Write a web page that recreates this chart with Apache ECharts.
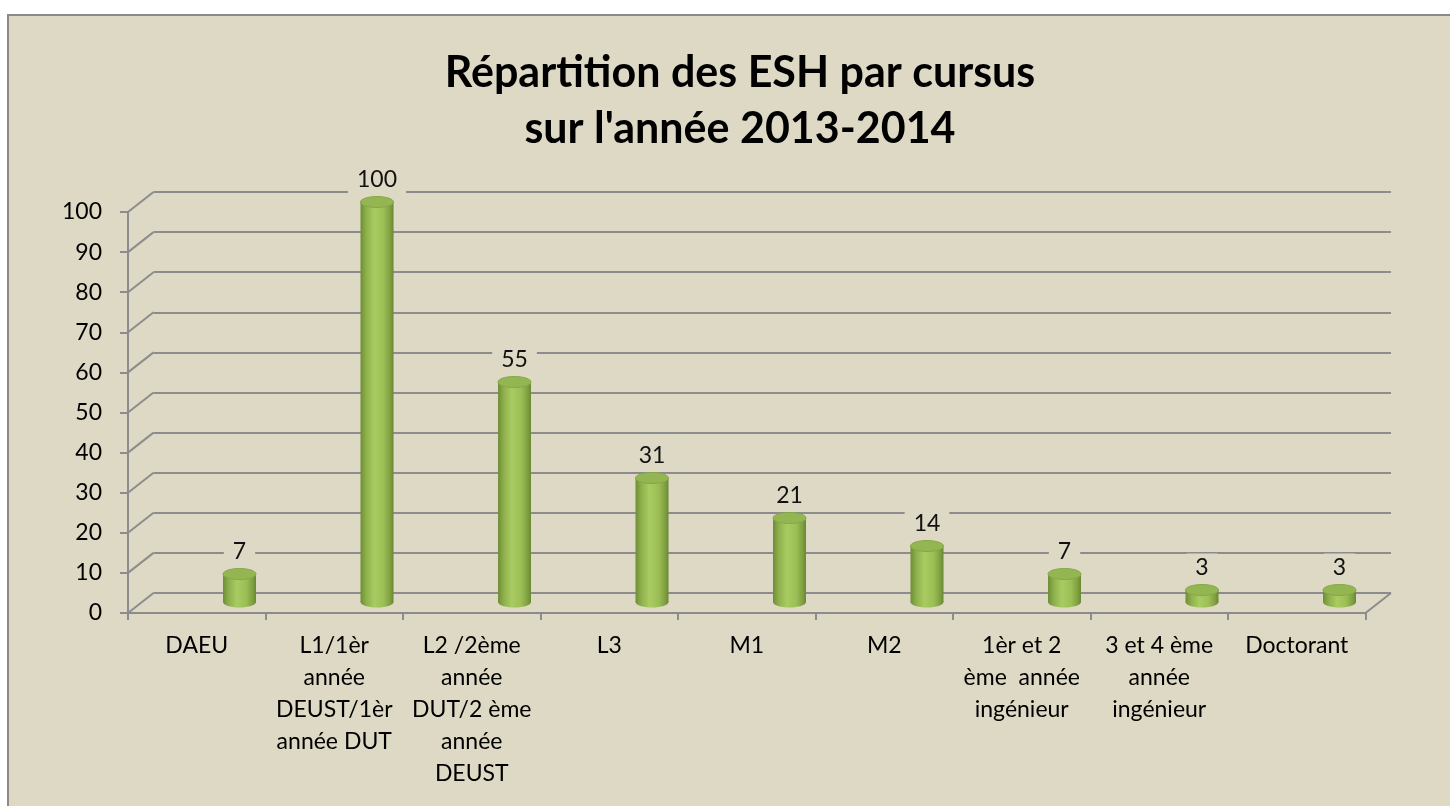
<!DOCTYPE html>
<html>
<head>
<meta charset="utf-8">
<script src="https://cdn.jsdelivr.net/npm/echarts@6/dist/echarts.min.js"></script>
<style>
  html, body { margin: 0; padding: 0; background: #fff; }
  #wrap { position: relative; width: 1450px; height: 806px; overflow: hidden; }
  #panel { position: absolute; left: 7px; top: 14px; width: 1480px; height: 820px;
           background: #DDD9C4; border-left: 2px solid #8a8a8a; border-top: 2px solid #8a8a8a; }
  #chart { position: absolute; left: 0; top: 0; width: 1450px; height: 806px; }
</style>
</head>
<body>
<div id="wrap">
  <div id="panel"></div>
  <div id="chart"></div>
</div>
<script>
// categories (tick labels, with the original line breaks)
const categories = [
  "DAEU",
  "L1/1èr\nannée\nDEUST/1èr\nannée DUT",
  "L2 /2ème\nannée\nDUT/2 ème\nannée\nDEUST",
  "L3",
  "M1",
  "M2",
  "1èr et 2\nème  année\ningénieur",
  "3 et 4 ème\nannée\ningénieur",
  "Doctorant"
];
// number of students per cursus
const values = [7, 100, 55, 31, 21, 14, 7, 3, 3];

const titleLines = ["Répartition des ESH par cursus", "sur l'année 2013-2014"];
const yMax = 100;
const yStep = 10;

const bg = "#DDD9C4";
const gridColor = "#8c8c8c";
const font = "Lato, 'Open Sans', sans-serif";

// front face, back wall, and the plane where the cylinders stand
const front = { left: 128, right: 84.5, top: 212, bottom: 193 };
const back = { left: 153.5, right: 59, top: 192, bottom: 213 };
const mid = { left: 170.75, right: 41.75, top: 202, bottom: 204 };

const chart = echarts.init(document.getElementById("chart"));

const bodyFill = new echarts.graphic.LinearGradient(0, 0, 1, 0, [
  { offset: 0, color: "#6f8d36" },
  { offset: 0.18, color: "#8fb14c" },
  { offset: 0.42, color: "#a9cb62" },
  { offset: 0.7, color: "#9cbf55" },
  { offset: 0.9, color: "#7f9f40" },
  { offset: 1, color: "#6a8732" }
]);

function renderCylinder(params, api) {
  const v = api.value(1);
  const top = api.coord([api.value(0), v]);
  const base = api.coord([api.value(0), 0]);
  const w = 33, eh = 11;
  return {
    type: "group",
    children: [
      { type: "ellipse", shape: { cx: base[0], cy: base[1], rx: w / 2, ry: eh / 2 }, style: { fill: bodyFill } },
      { type: "rect", shape: { x: base[0] - w / 2, y: top[1], width: w, height: base[1] - top[1] }, style: { fill: bodyFill } },
      { type: "ellipse", shape: { cx: top[0], cy: top[1], rx: w / 2, ry: eh / 2 },
        style: { fill: "#94b652", stroke: "#87a746", lineWidth: 1 } },
      { type: "text", x: top[0], y: top[1] - 22,
        style: { text: String(v), fill: "#111", font: "23px " + font, align: "center", verticalAlign: "middle",
                 backgroundColor: bg, padding: [3, 9] } }
    ]
  };
}

const option = {
  backgroundColor: "transparent",
  animation: false,
  title: {
    text: titleLines.join("\n"),
    left: 735,
    top: 40,
    textAlign: "center",
    textStyle: { fontFamily: font, fontSize: 43, fontWeight: "bold", color: "#000", lineHeight: 56 }
  },
  grid: [
    Object.assign({}, front),
    Object.assign({}, back),
    Object.assign({}, mid)
  ],
  xAxis: [
    {
      type: "category", gridIndex: 0, data: categories, boundaryGap: true,
      axisLine: { lineStyle: { color: gridColor, width: 2 } },
      axisTick: { show: true, length: 7, lineStyle: { color: gridColor, width: 2 } },
      axisLabel: { interval: 0, margin: 17, color: "#000", fontFamily: font, fontSize: 23, lineHeight: 32, align: "center" }
    },
    { type: "category", gridIndex: 1, data: categories, show: false },
    { type: "category", gridIndex: 2, data: categories, show: false }
  ],
  yAxis: [
    {
      type: "value", gridIndex: 0, min: 0, max: yMax, interval: yStep,
      axisLine: { show: true, lineStyle: { color: gridColor, width: 2 } },
      axisTick: { show: true, length: 8, lineStyle: { color: gridColor, width: 2 } },
      axisLabel: { margin: 26, color: "#000", fontFamily: font, fontSize: 23 },
      splitLine: { show: false }
    },
    {
      type: "value", gridIndex: 1, min: 0, max: yMax, interval: yStep,
      axisLine: { show: false }, axisTick: { show: false }, axisLabel: { show: false },
      splitLine: { show: true, lineStyle: { color: gridColor, width: 2 } }
    },
    { type: "value", gridIndex: 2, min: 0, max: yMax, interval: yStep, show: false, splitLine: { show: false } }
  ],
  series: [
    {
      type: "custom",
      xAxisIndex: 2,
      yAxisIndex: 2,
      z: 10,
      renderItem: renderCylinder,
      data: values.map((v, i) => [i, v])
    }
  ]
};

chart.setOption(option);

// side wall / floor edges joining the front axis to the back wall
const edges = [];
const frontRight = 1450 - front.right;
const backRight = 1450 - back.right;
for (let v = 0; v <= yMax; v += yStep) {
  const yf = chart.convertToPixel({ yAxisIndex: 0 }, v);
  const yb = chart.convertToPixel({ yAxisIndex: 1 }, v);
  edges.push({ type: "line", z: 1, shape: { x1: front.left, y1: yf, x2: back.left, y2: yb },
               style: { stroke: gridColor, lineWidth: 2 } });
  if (v === 0) {
    edges.push({ type: "line", z: 1, shape: { x1: frontRight, y1: yf, x2: backRight, y2: yb },
                 style: { stroke: gridColor, lineWidth: 2 } });
  }
}
chart.setOption({ graphic: edges });
</script>
</body>
</html>
